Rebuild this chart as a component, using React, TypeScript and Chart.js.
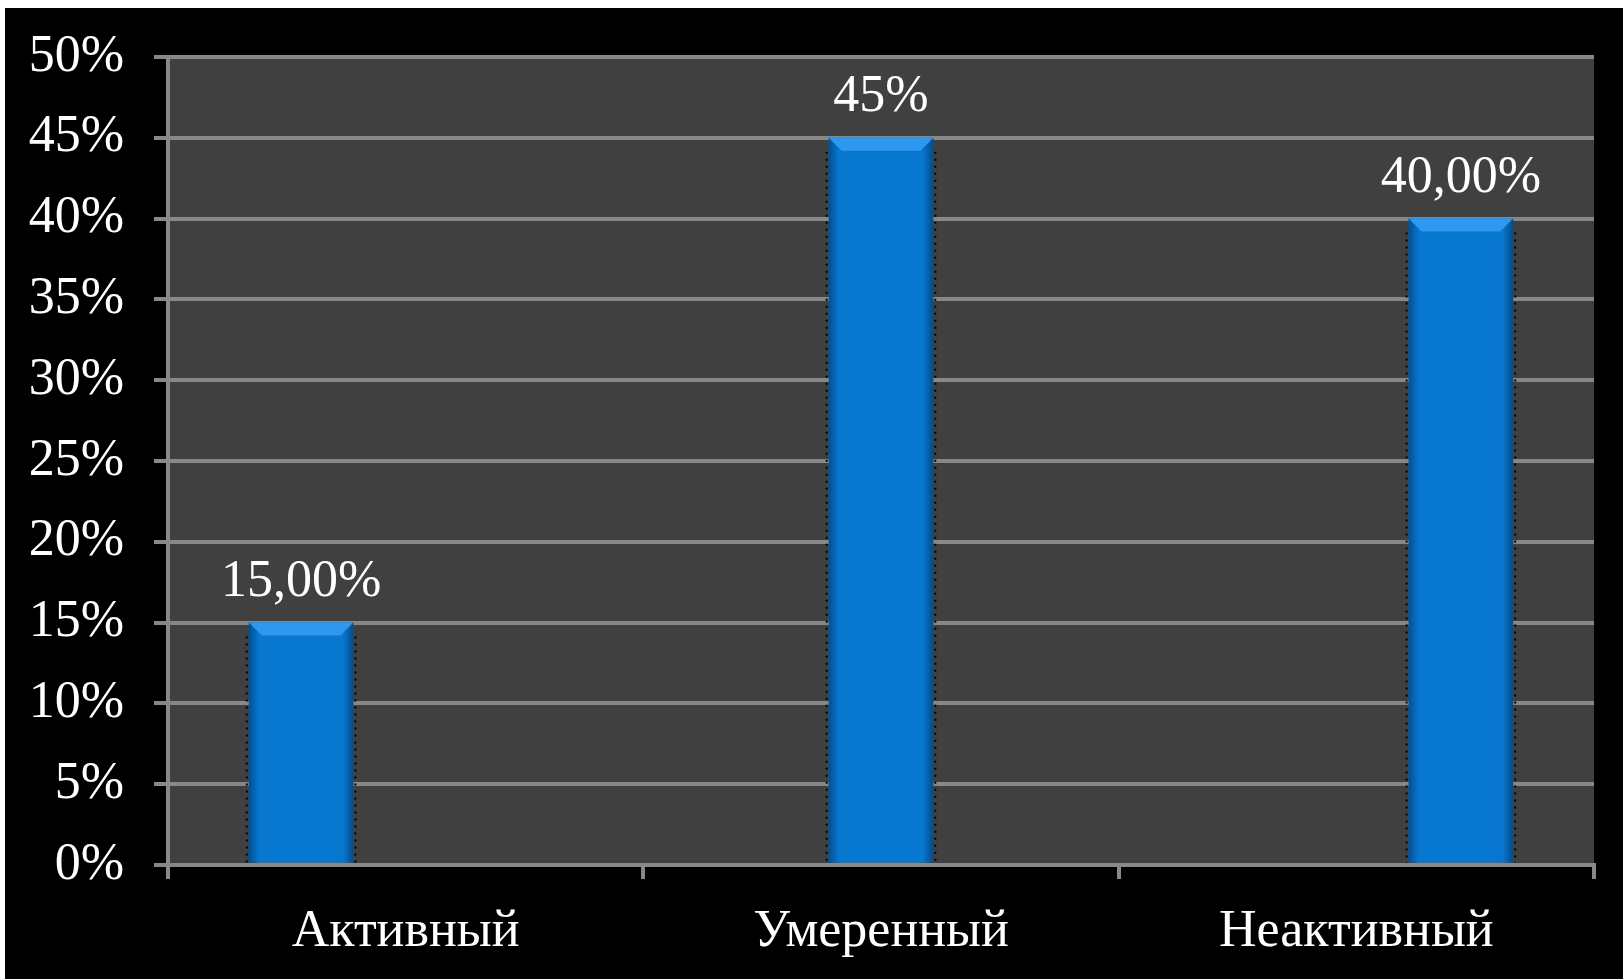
import React, { useEffect, useRef } from "react";
import { Chart, registerables } from "chart.js";

Chart.register(...registerables);

// ---- data ----
const categories = ["Активный", "Умеренный", "Неактивный"];
const seriesNames = ["Активный", "Умеренный", "Неактивный"];
const activeValues = [15, null, null];
const moderateValues = [null, 45, null];
const inactiveValues = [null, null, 40];
const valueLabels = ["15,00%", "45%", "40,00%"];
const yMin = 0;
const yMax = 50;
const yStep = 5;

const FONT = "'Liberation Serif', 'Times New Roman', serif";

const plotBgPlugin = {
  id: "plotBg",
  beforeDraw(chart: any) {
    const { ctx, chartArea } = chart;
    if (!chartArea) return;
    ctx.save();
    ctx.fillStyle = "#404040";
    ctx.fillRect(chartArea.left, chartArea.top, chartArea.right - chartArea.left, chartArea.bottom - chartArea.top);
    ctx.restore();
  },
};

const barStylePlugin = {
  id: "barStyle",
  afterDatasetsDraw(chart: any) {
    const { ctx } = chart;
    chart.data.datasets.forEach((ds: any, di: number) => {
      const meta = chart.getDatasetMeta(di);
      meta.data.forEach((el: any, i: number) => {
        const v = ds.data[i];
        if (v === null || v === undefined) return;
        const w = el.width;
        const left = el.x - w / 2;
        const right = el.x + w / 2;
        const top = el.y;
        const bottom = el.base;
        ctx.save();
        // side shading
        const g = ctx.createLinearGradient(left, 0, right, 0);
        g.addColorStop(0, "rgba(0,30,70,0.45)");
        g.addColorStop(0.1, "rgba(0,30,70,0.0)");
        g.addColorStop(0.9, "rgba(0,30,70,0.0)");
        g.addColorStop(1, "rgba(0,30,70,0.5)");
        ctx.fillStyle = g;
        ctx.fillRect(left, top, w, bottom - top);
        // top bevel
        const b = 13;
        ctx.beginPath();
        ctx.moveTo(left, top);
        ctx.lineTo(right, top);
        ctx.lineTo(right - b, top + b);
        ctx.lineTo(left + b, top + b);
        ctx.closePath();
        ctx.fillStyle = "#2E98EE";
        ctx.fill();
        // dotted outline on the sides
        ctx.strokeStyle = "#000000";
        ctx.lineWidth = 2;
        ctx.setLineDash([2, 5]);
        ctx.beginPath();
        ctx.moveTo(left - 2, top + 14);
        ctx.lineTo(left - 2, bottom);
        ctx.moveTo(right + 2, top + 14);
        ctx.lineTo(right + 2, bottom);
        ctx.stroke();
        ctx.restore();
      });
    });
  },
};

const valueLabelPlugin = {
  id: "valueLabels",
  afterDatasetsDraw(chart: any) {
    const { ctx } = chart;
    ctx.save();
    ctx.fillStyle = "#ffffff";
    ctx.font = `52px ${FONT}`;
    ctx.textAlign = "center";
    ctx.textBaseline = "alphabetic";
    chart.data.datasets.forEach((ds: any, di: number) => {
      const meta = chart.getDatasetMeta(di);
      meta.data.forEach((el: any, i: number) => {
        const v = ds.data[i];
        if (v === null || v === undefined) return;
        ctx.fillText(valueLabels[di], el.x, el.y - 27);
      });
    });
    ctx.restore();
  },
};

export default function App() {
  const ref = useRef<HTMLCanvasElement | null>(null);

  useEffect(() => {
    document.body.style.margin = "0";
    document.body.style.background = "#ffffff";
    const canvas = ref.current;
    if (!canvas) return;
    const chart = new Chart(canvas, {
      type: "bar",
      data: {
        labels: categories,
        datasets: [
          { label: seriesNames[0], data: activeValues as any, backgroundColor: "#0877D0" },
          { label: seriesNames[1], data: moderateValues as any, backgroundColor: "#0877D0" },
          { label: seriesNames[2], data: inactiveValues as any, backgroundColor: "#0877D0" },
        ],
      },
      options: {
        responsive: false,
        animation: false,
        devicePixelRatio: 1,
        layout: { padding: { left: 0, right: 29, top: 49, bottom: 0 } },
        datasets: {
          bar: { categoryPercentage: 0.66, barPercentage: 1.0, skipNull: false },
        },
        plugins: {
          legend: { display: false },
          tooltip: { enabled: false },
          title: { display: false },
        },
        scales: {
          x: {
            offset: true,
            grid: {
              offset: true,
              drawOnChartArea: false,
              drawTicks: true,
              tickLength: 14,
              color: "#888888",
              lineWidth: 4,
            },
            border: { display: true, color: "#888888", width: 4 },
            ticks: {
              color: "#ffffff",
              font: { family: FONT, size: 52 },
              padding: 22,
              maxRotation: 0,
            },
            afterFit(scale: any) {
              scale.height = 114;
              scale.paddingLeft = 0;
              scale.paddingRight = 0;
            },
          },
          y: {
            min: yMin,
            max: yMax,
            grid: {
              color: "#888888",
              lineWidth: 4,
              drawTicks: true,
              tickLength: 14,
            },
            border: { display: true, color: "#888888", width: 4 },
            ticks: {
              stepSize: yStep,
              color: "#ffffff",
              font: { family: FONT, size: 52 },
              padding: 30,
              callback: (v: any) => `${v}%`,
            },
            afterFit(scale: any) {
              scale.width = 163;
              scale.paddingTop = 0;
              scale.paddingBottom = 0;
            },
          },
        },
      },
      plugins: [plotBgPlugin, barStylePlugin, valueLabelPlugin],
    });
    return () => chart.destroy();
  }, []);

  return (
    <div
      style={{
        position: "absolute",
        left: 5,
        top: 8,
        width: 1618,
        height: 971,
        background: "#000000",
      }}
    >
      <canvas ref={ref} width={1618} height={971} style={{ display: "block", width: 1618, height: 971 }} />
    </div>
  );
}
